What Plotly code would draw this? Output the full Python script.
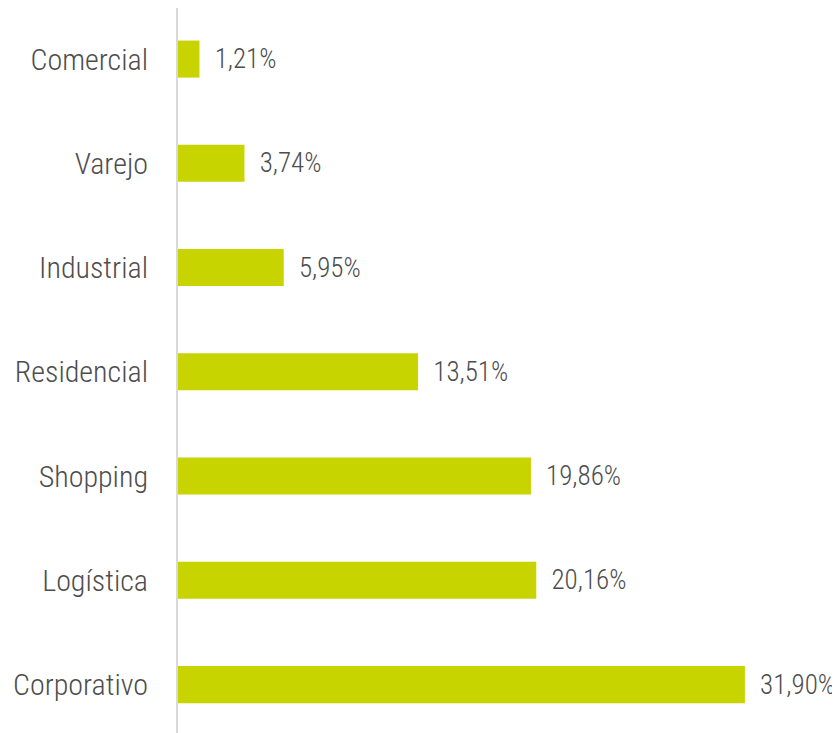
import plotly.graph_objects as go

categories = ["Corporativo", "Logística", "Shopping", "Residencial", "Industrial", "Varejo", "Comercial"]
values = [31.90, 20.16, 19.86, 13.51, 5.95, 3.74, 1.21]
labels = [f"{v:.2f}".replace(".", ",") + "%" for v in values]

FONT = "Roboto Condensed"
TXT = "#4d4d4d"

fig = go.Figure(go.Bar(
    y=categories, x=values, orientation="h",
    marker=dict(color="#c8d400", line=dict(width=0)),
    text=labels, texttemplate="  %{text}", textposition="outside",
    textfont=dict(family=FONT, size=27, color=TXT, weight=300),
    cliponaxis=False, width=0.355,
))

fig.update_layout(
    width=832, height=725,
    margin=dict(l=170, r=40, t=0, b=0, autoexpand=False),
    plot_bgcolor="white", paper_bgcolor="white",
    showlegend=False,
    xaxis=dict(range=[0, 35], visible=False, automargin=False),
    yaxis=dict(
        type="category", range=[-0.464, 6.49], automargin=False,
        showline=True, linecolor="#d9d9d9", linewidth=2,
        showgrid=False, zeroline=False, ticks="", ticklabelstandoff=22,
        tickfont=dict(family=FONT, size=30, color=TXT, weight=300),
    ),
)

fig.write_html("out.html")
